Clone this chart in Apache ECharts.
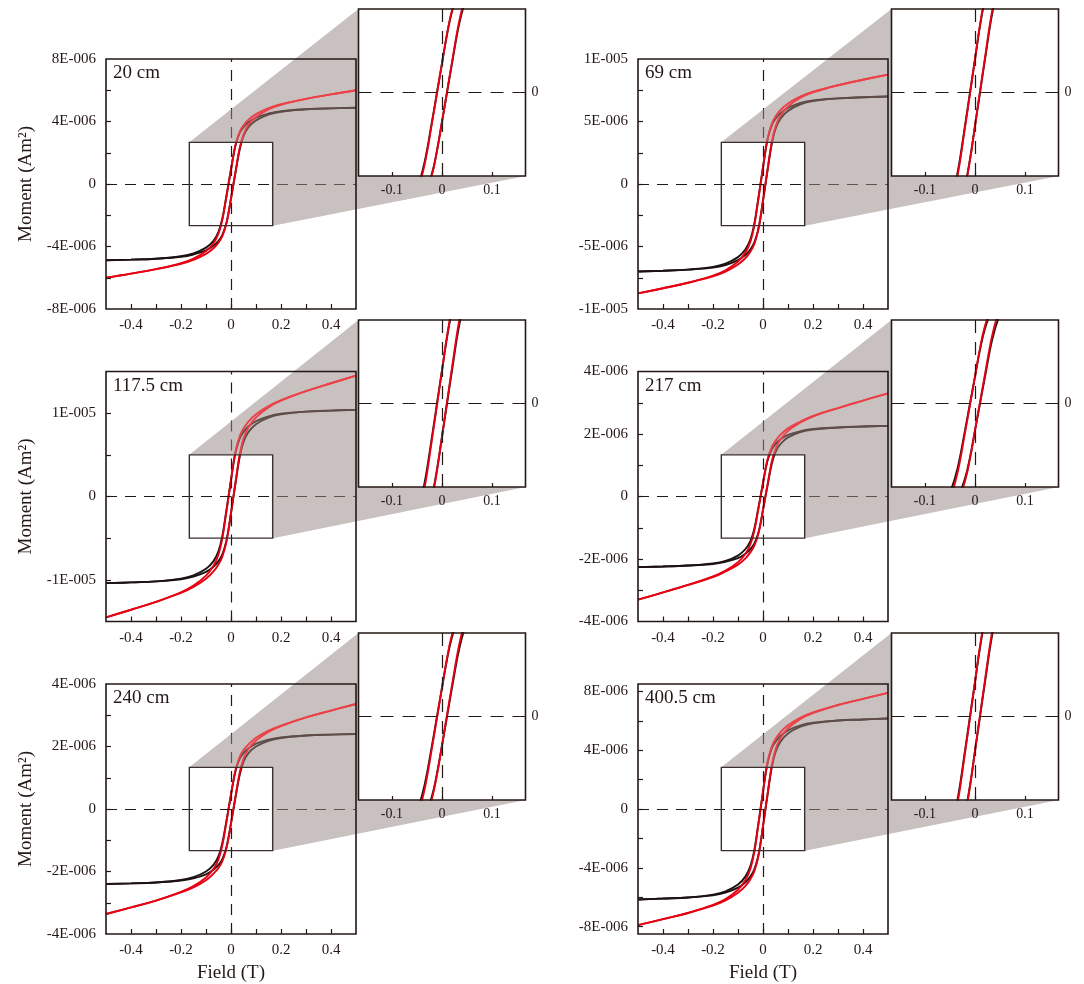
<!DOCTYPE html>
<html>
<head>
<meta charset="utf-8">
<script src="https://cdn.jsdelivr.net/npm/echarts@6/dist/echarts.min.js"></script>
<style>
html, body { margin: 0; padding: 0; background: #ffffff; }
#chart { width: 1084px; height: 984px; }
</style>
</head>
<body>
<div id="chart"></div>
<script>
// Applied field (T) at which each loop branch is sampled
const field = [-0.5, -0.4, -0.3, -0.2, -0.15, -0.1, -0.07, -0.05, -0.035, -0.02, -0.01, 0,
               0.01, 0.02, 0.035, 0.05, 0.07, 0.1, 0.15, 0.2, 0.3, 0.4, 0.5];

// Moments in units of 1E-006 Am2. "Desc" = field sweeping down, "Asc" = field sweeping up.
// black = slope-corrected loop, red = measured loop
const black20Desc = [-4.88, -4.84, -4.78, -4.62, -4.44, -4.07, -3.64, -3.07, -2.24, -0.93, 0, 0.93, 1.85, 2.59, 3.27, 3.64, 3.95, 4.25, 4.51, 4.66, 4.78, 4.84, 4.88];
const black20Asc  = [-4.88, -4.84, -4.78, -4.66, -4.51, -4.25, -3.95, -3.64, -3.27, -2.59, -1.85, -0.93, 0, 0.93, 2.24, 3.07, 3.64, 4.07, 4.44, 4.62, 4.78, 4.84, 4.88];
const red20Desc   = [-6.00, -5.74, -5.45, -5.07, -4.78, -4.29, -3.80, -3.18, -2.32, -0.97, -0.02, 0.93, 1.87, 2.63, 3.35, 3.75, 4.11, 4.47, 4.85, 5.11, 5.45, 5.74, 6.00];
const red20Asc    = [-6.00, -5.74, -5.45, -5.11, -4.85, -4.47, -4.11, -3.75, -3.35, -2.63, -1.87, -0.93, 0.02, 0.97, 2.32, 3.18, 3.80, 4.29, 4.78, 5.07, 5.45, 5.74, 6.00];

const black69Desc = [-7.00, -6.94, -6.85, -6.63, -6.37, -5.85, -5.22, -4.41, -3.22, -1.33, 0, 1.33, 2.66, 3.71, 4.69, 5.22, 5.67, 6.09, 6.48, 6.69, 6.85, 6.94, 7.00];
const black69Asc  = [-7.00, -6.94, -6.85, -6.69, -6.48, -6.09, -5.67, -5.22, -4.69, -3.71, -2.66, -1.33, 0, 1.33, 3.22, 4.41, 5.22, 5.85, 6.37, 6.63, 6.85, 6.94, 7.00];
const red69Desc   = [-8.75, -8.34, -7.90, -7.33, -6.90, -6.20, -5.47, -4.59, -3.34, -1.40, -0.04, 1.33, 2.70, 3.78, 4.81, 5.40, 5.92, 6.44, 7.01, 7.39, 7.90, 8.34, 8.75];
const red69Asc    = [-8.75, -8.34, -7.90, -7.39, -7.01, -6.44, -5.92, -5.40, -4.81, -3.78, -2.70, -1.33, 0.04, 1.40, 3.34, 4.59, 5.47, 6.20, 6.90, 7.33, 7.90, 8.34, 8.75];

const black117Desc = [-10.40, -10.31, -10.18, -9.85, -9.46, -8.68, -7.75, -6.55, -4.78, -1.98, 0, 1.98, 3.95, 5.51, 6.97, 7.75, 8.42, 9.05, 9.62, 9.93, 10.18, 10.31, 10.40];
const black117Asc  = [-10.40, -10.31, -10.18, -9.93, -9.62, -9.05, -8.42, -7.75, -6.97, -5.51, -3.95, -1.98, 0, 1.98, 4.78, 6.55, 7.75, 8.68, 9.46, 9.85, 10.18, 10.31, 10.40];
const red117Desc   = [-14.50, -13.59, -12.64, -11.49, -10.69, -9.50, -8.32, -6.96, -5.07, -2.14, -0.08, 1.98, 4.03, 5.67, 7.26, 8.16, 8.99, 9.87, 10.85, 11.57, 12.64, 13.59, 14.50];
const red117Asc    = [-14.50, -13.59, -12.64, -11.57, -10.85, -9.87, -8.99, -8.16, -7.26, -5.67, -4.03, -1.98, 0.08, 2.14, 5.07, 6.96, 8.32, 9.50, 10.69, 11.49, 12.64, 13.59, 14.50];

const black217Desc = [-2.26, -2.24, -2.21, -2.14, -2.06, -1.89, -1.68, -1.42, -1.04, -0.43, 0, 0.43, 0.86, 1.20, 1.51, 1.68, 1.83, 1.97, 2.09, 2.16, 2.21, 2.24, 2.26];
const black217Asc  = [-2.26, -2.24, -2.21, -2.16, -2.09, -1.97, -1.83, -1.68, -1.51, -1.20, -0.86, -0.43, 0, 0.43, 1.04, 1.42, 1.68, 1.89, 2.06, 2.14, 2.21, 2.24, 2.26];
const red217Desc   = [-3.30, -3.07, -2.83, -2.56, -2.37, -2.10, -1.83, -1.52, -1.11, -0.47, -0.02, 0.43, 0.88, 1.24, 1.58, 1.78, 1.98, 2.18, 2.40, 2.58, 2.83, 3.07, 3.30];
const red217Asc    = [-3.30, -3.07, -2.83, -2.58, -2.40, -2.18, -1.98, -1.78, -1.58, -1.24, -0.88, -0.43, 0.02, 0.47, 1.11, 1.52, 1.83, 2.10, 2.37, 2.56, 2.83, 3.07, 3.30];

const black240Desc = [-2.40, -2.38, -2.35, -2.27, -2.18, -2.00, -1.79, -1.51, -1.10, -0.46, 0, 0.46, 0.91, 1.27, 1.61, 1.79, 1.94, 2.09, 2.22, 2.29, 2.35, 2.38, 2.40];
const black240Asc  = [-2.40, -2.38, -2.35, -2.29, -2.22, -2.09, -1.94, -1.79, -1.61, -1.27, -0.91, -0.46, 0, 0.46, 1.10, 1.51, 1.79, 2.00, 2.18, 2.27, 2.35, 2.38, 2.40];
const red240Desc   = [-3.36, -3.15, -2.93, -2.65, -2.47, -2.19, -1.92, -1.61, -1.17, -0.50, -0.02, 0.46, 0.93, 1.31, 1.68, 1.89, 2.07, 2.28, 2.51, 2.67, 2.93, 3.15, 3.36];
const red240Asc    = [-3.36, -3.15, -2.93, -2.67, -2.51, -2.28, -2.07, -1.89, -1.68, -1.31, -0.93, -0.46, 0.02, 0.50, 1.17, 1.61, 1.92, 2.19, 2.47, 2.65, 2.93, 3.15, 3.36];

const black400Desc = [-6.15, -6.09, -6.02, -5.82, -5.60, -5.14, -4.58, -3.87, -2.83, -1.17, 0, 1.17, 2.34, 3.26, 4.12, 4.58, 4.98, 5.35, 5.69, 5.87, 6.02, 6.09, 6.15];
const black400Asc  = [-6.15, -6.09, -6.02, -5.87, -5.69, -5.35, -4.98, -4.58, -4.12, -3.26, -2.34, -1.17, 0, 1.17, 2.83, 3.87, 4.58, 5.14, 5.60, 5.82, 6.02, 6.09, 6.15];
const red400Desc   = [-7.90, -7.49, -7.07, -6.52, -6.13, -5.49, -4.83, -4.05, -2.95, -1.24, -0.04, 1.17, 2.38, 3.33, 4.24, 4.76, 5.23, 5.70, 6.22, 6.57, 7.07, 7.49, 7.90];
const red400Asc    = [-7.90, -7.49, -7.07, -6.57, -6.22, -5.70, -5.23, -4.76, -4.24, -3.33, -2.38, -1.17, 0.04, 1.24, 2.95, 4.05, 4.83, 5.49, 6.13, 6.52, 7.07, 7.49, 7.90];

// Depth labels
const depthLabels = ['20 cm', '69 cm', '117.5 cm', '217 cm', '240 cm', '400.5 cm'];

// Field axis ticks
const xTickVals  = [-0.4, -0.3, -0.2, -0.1, 0, 0.1, 0.2, 0.3, 0.4];
const xLabelVals = [-0.4, -0.2, 0, 0.2, 0.4];
const xLabelText = ['-0.4', '-0.2', '0', '0.2', '0.4'];
const insetXVals = [-0.1, 0, 0.1];
const insetXText = ['-0.1', '0', '0.1'];

// Moment axis extents, ticks and labels (1E-006 Am2)
const yMax = [8, 10, 15, 4, 4, 8.5];
const yTicks20  = [-6, -4, -2, 0, 2, 4, 6];
const yTicks69  = [-7.5, -5, -2.5, 0, 2.5, 5, 7.5];
const yTicks117 = [-10, -5, 0, 5, 10];
const yTicks217 = [-3, -2, -1, 0, 1, 2, 3];
const yTicks240 = [-3, -2, -1, 0, 1, 2, 3];
const yTicks400 = [-8, -6, -4, -2, 0, 2, 4, 6, 8];
const yLabVals20  = [-8, -4, 0, 4, 8];
const yLabText20  = ['-8E-006', '-4E-006', '0', '4E-006', '8E-006'];
const yLabVals69  = [-10, -5, 0, 5, 10];
const yLabText69  = ['-1E-005', '-5E-006', '0', '5E-006', '1E-005'];
const yLabVals117 = [-10, 0, 10];
const yLabText117 = ['-1E-005', '0', '1E-005'];
const yLabVals217 = [-4, -2, 0, 2, 4];
const yLabText217 = ['-4E-006', '-2E-006', '0', '2E-006', '4E-006'];
const yLabVals240 = [-4, -2, 0, 2, 4];
const yLabText240 = ['-4E-006', '-2E-006', '0', '2E-006', '4E-006'];
const yLabVals400 = [-8, -4, 0, 4, 8];
const yLabText400 = ['-8E-006', '-4E-006', '0', '4E-006', '8E-006'];

// ---- assembly ----
const loops = [
  [black20Desc, black20Asc, red20Desc, red20Asc],
  [black69Desc, black69Asc, red69Desc, red69Asc],
  [black117Desc, black117Asc, red117Desc, red117Asc],
  [black217Desc, black217Asc, red217Desc, red217Asc],
  [black240Desc, black240Asc, red240Desc, red240Asc],
  [black400Desc, black400Asc, red400Desc, red400Asc]
];
const yTicks = [yTicks20, yTicks69, yTicks117, yTicks217, yTicks240, yTicks400];
const yLabVals = [yLabVals20, yLabVals69, yLabVals117, yLabVals217, yLabVals240, yLabVals400];
const yLabText = [yLabText20, yLabText69, yLabText117, yLabText217, yLabText240, yLabText400];

const FONT = "'Liberation Serif', 'Times New Roman', serif";
const INK = '#231815';
const RED = '#e60012';
const BLACK = '#1c1212';
const WEDGE_BASE = '#b4b8be';                 // under the curves
const WEDGE_VEIL = 'rgba(250,215,200,0.3)';  // over the curves; together they give #c9c1c1

const X_MAX = 0.5;
const ZOOM = 3;  // inset magnification

// panel placement (px)
const colMain = [106, 638], colInset = [358.5, 891.5];
const rowMain = [59, 371.5, 684], rowInset = [9, 320, 633];
const MAIN_SIZE = 250, INSET_SIZE = 167;

function pick(vals, texts) {
  return function (v) {
    const k = vals.findIndex(function (u) { return Math.abs(u - v) < 1e-9; });
    return k >= 0 ? texts[k] : '';
  };
}

const grids = [], xAxes = [], yAxes = [], series = [];

for (let i = 0; i < 6; i++) {
  const col = i % 2, row = Math.floor(i / 2);
  grids.push({ left: colMain[col], top: rowMain[row], width: MAIN_SIZE, height: MAIN_SIZE,
               show: false, outerBoundsMode: 'none', containLabel: false });
}
for (let i = 0; i < 6; i++) {
  const col = i % 2, row = Math.floor(i / 2);
  grids.push({ left: colInset[col], top: rowInset[row], width: INSET_SIZE, height: INSET_SIZE,
               show: false, outerBoundsMode: 'none', containLabel: false });
}

// main axes
for (let i = 0; i < 6; i++) {
  const bottomRow = i >= 4, leftCol = i % 2 === 0;
  xAxes.push({
    type: 'value', gridIndex: i, min: -X_MAX, max: X_MAX, z: 10, position: 'bottom',
    axisLine: { show: false, onZero: false },
    splitLine: { show: false },
    axisTick: { show: true, inside: true, length: 5, customValues: xTickVals,
                lineStyle: { color: INK, width: 1.2 } },
    axisLabel: { show: true, margin: 9, customValues: xLabelVals, formatter: pick(xLabelVals, xLabelText),
                 fontFamily: FONT, fontSize: 15, color: INK },
    name: bottomRow ? 'Field (T)' : '', nameLocation: 'middle', nameGap: 30,
    nameTextStyle: { fontFamily: FONT, fontSize: 19, color: INK }
  });
  yAxes.push({
    type: 'value', gridIndex: i, min: -yMax[i], max: yMax[i], z: 10, position: 'left',
    axisLine: { show: false, onZero: false },
    splitLine: { show: false },
    axisTick: { show: true, inside: true, length: 5, customValues: yTicks[i],
                lineStyle: { color: INK, width: 1.2 } },
    axisLabel: { show: true, margin: 10, customValues: yLabVals[i], formatter: pick(yLabVals[i], yLabText[i]),
                 fontFamily: FONT, fontSize: 15, color: INK },
    name: leftCol ? 'Moment (Am²)' : '', nameLocation: 'middle', nameGap: 70, nameRotate: 90,
    nameTextStyle: { fontFamily: FONT, fontSize: 19, color: INK }
  });
}
// inset axes
for (let i = 0; i < 6; i++) {
  xAxes.push({
    type: 'value', gridIndex: 6 + i, min: -X_MAX / ZOOM, max: X_MAX / ZOOM, z: 10, position: 'bottom',
    axisLine: { show: false, onZero: false },
    splitLine: { show: false },
    axisTick: { show: true, inside: true, length: 4, customValues: insetXVals,
                lineStyle: { color: INK, width: 1.2 } },
    axisLabel: { show: true, margin: 7, customValues: insetXVals, formatter: pick(insetXVals, insetXText),
                 fontFamily: FONT, fontSize: 14, color: INK }
  });
  yAxes.push({
    type: 'value', gridIndex: 6 + i, position: 'right',
    min: -yMax[i] / ZOOM, max: yMax[i] / ZOOM, z: 10,
    axisLine: { show: false, onZero: false },
    splitLine: { show: false },
    axisTick: { show: false },
    axisLabel: { show: true, margin: 6, customValues: [0], formatter: function () { return '0'; },
                 fontFamily: FONT, fontSize: 14, color: INK }
  });
}

function pairs(arr) { return field.map(function (x, k) { return [x, arr[k]]; }); }

for (let g = 0; g < 12; g++) {
  const i = g % 6;
  const inset = g >= 6;
  const dash = inset ? [13, 9] : [11, 8];
  // dashed zero lines
  series.push({
    type: 'line', xAxisIndex: g, yAxisIndex: g, data: [], z: 1, silent: true,
    markLine: {
      silent: true, symbol: ['none', 'none'], animation: false,
      label: { show: false },
      lineStyle: { color: INK, width: 1.2, type: dash, dashOffset: 0 },
      emphasis: { disabled: true },
      data: [{ xAxis: 0, lineStyle: { type: dash } }, { yAxis: 0, lineStyle: { type: dash } }]
    }
  });
  const L = loops[i];
  [[L[0], BLACK, 2], [L[1], BLACK, 2], [L[2], RED, 3], [L[3], RED, 3]].forEach(function (s) {
    series.push({
      type: 'line', xAxisIndex: g, yAxisIndex: g, data: pairs(s[0]), z: s[2],
      smooth: 0.4, showSymbol: false, symbol: 'none', silent: true,
      animation: false, clip: true,
      lineStyle: { color: s[1], width: 1.9 }
    });
  });
}

const chart = echarts.init(document.getElementById('chart'), null, { renderer: 'canvas' });
chart.setOption({
  backgroundColor: '#ffffff',
  animation: false,
  grid: grids, xAxis: xAxes, yAxis: yAxes, series: series
});

// zoom wedges, frames and depth labels, placed from the axis scales
const elements = [];
for (let i = 0; i < 6; i++) {
  const px = function (g, p) { return chart.convertToPixel({ gridIndex: g }, p); };
  const ym = yMax[i];
  const boxTL = px(i, [-X_MAX, ym]), boxBR = px(i, [X_MAX, -ym]);
  const zTL = px(i, [-X_MAX / ZOOM, ym / ZOOM]), zBR = px(i, [X_MAX / ZOOM, -ym / ZOOM]);
  const iTL = px(6 + i, [-X_MAX / ZOOM, ym / ZOOM]);
  const iBR = px(6 + i, [X_MAX / ZOOM, -ym / ZOOM]);
  const iBL = [iTL[0], iBR[1]];
  const zTR = [zBR[0], zTL[1]];
  const wedge = [zTL, iTL, iBL, iBR, zBR, zTR];
  elements.push({ type: 'polygon', z: 0, silent: true, shape: { points: wedge },
                  style: { fill: WEDGE_BASE, stroke: null } });
  elements.push({ type: 'polygon', z: 5, silent: true, shape: { points: wedge },
                  style: { fill: WEDGE_VEIL, stroke: null } });
  elements.push({ type: 'rect', z: 6, silent: true,
                  shape: { x: zTL[0], y: zTL[1], width: zBR[0] - zTL[0], height: zBR[1] - zTL[1] },
                  style: { fill: null, stroke: '#3a2e2e', lineWidth: 1.4 } });
  elements.push({ type: 'rect', z: 6, silent: true,
                  shape: { x: boxTL[0], y: boxTL[1], width: boxBR[0] - boxTL[0], height: boxBR[1] - boxTL[1] },
                  style: { fill: null, stroke: INK, lineWidth: 1.6 } });
  elements.push({ type: 'rect', z: 6, silent: true,
                  shape: { x: iTL[0], y: iTL[1], width: iBR[0] - iTL[0], height: iBR[1] - iTL[1] },
                  style: { fill: null, stroke: INK, lineWidth: 1.6 } });
  elements.push({ type: 'text', z: 7, silent: true, x: boxTL[0] + 7, y: boxTL[1] + 5,
                  style: { text: depthLabels[i], font: '19px ' + FONT, fill: INK,
                           textAlign: 'left', textVerticalAlign: 'top' } });
}
chart.setOption({ graphic: { elements: elements } });
</script>
</body>
</html>
